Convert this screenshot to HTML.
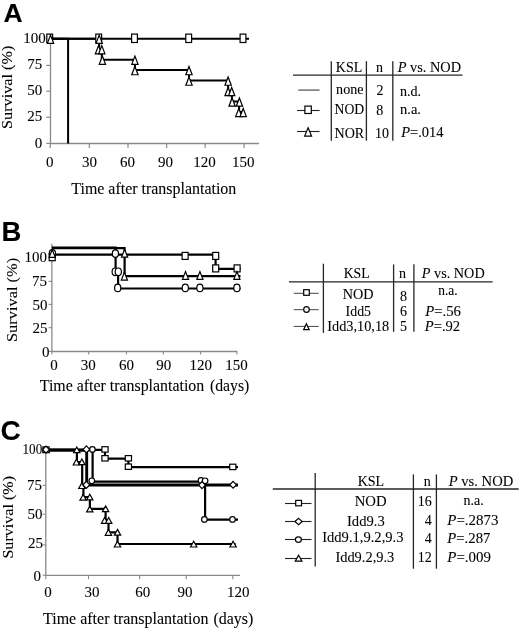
<!DOCTYPE html><html><head><meta charset="utf-8"><style>html,body{margin:0;padding:0;background:#fff;}svg{display:block;will-change:transform;}text{font-family:"Liberation Serif",serif;fill:#000;stroke:#000;stroke-width:0.08px;}</style></head><body>
<svg width="520" height="630" viewBox="0 0 520 630">
<rect width="520" height="630" fill="#fff"/>
<text x="3.4" y="21.6" font-size="26.5" style="font-family:'Liberation Sans',sans-serif;font-weight:bold">A</text>
<line x1="50.5" y1="38.6" x2="50.5" y2="143.9" stroke="#8a8a8a" stroke-width="1.3"/>
<line x1="46.3" y1="39.4" x2="50.5" y2="39.4" stroke="#8a8a8a" stroke-width="1.2"/>
<line x1="46.3" y1="65.4" x2="50.5" y2="65.4" stroke="#8a8a8a" stroke-width="1.2"/>
<line x1="46.3" y1="91.2" x2="50.5" y2="91.2" stroke="#8a8a8a" stroke-width="1.2"/>
<line x1="46.3" y1="117.2" x2="50.5" y2="117.2" stroke="#8a8a8a" stroke-width="1.2"/>
<line x1="46.3" y1="143.4" x2="50.5" y2="143.4" stroke="#8a8a8a" stroke-width="1.2"/>
<line x1="50.0" y1="143.5" x2="259" y2="143.5" stroke="#8a8a8a" stroke-width="1.3"/>
<line x1="50.2" y1="143.4" x2="50.2" y2="148" stroke="#8a8a8a" stroke-width="1.2"/>
<line x1="89.3" y1="143.4" x2="89.3" y2="148" stroke="#8a8a8a" stroke-width="1.2"/>
<line x1="128" y1="143.4" x2="128" y2="148" stroke="#8a8a8a" stroke-width="1.2"/>
<line x1="166.6" y1="143.4" x2="166.6" y2="148" stroke="#8a8a8a" stroke-width="1.2"/>
<line x1="205.1" y1="143.4" x2="205.1" y2="148" stroke="#8a8a8a" stroke-width="1.2"/>
<line x1="244.1" y1="143.4" x2="244.1" y2="148" stroke="#8a8a8a" stroke-width="1.2"/>
<text x="23.3" y="42.8" font-size="15" text-anchor="start" textLength="22.6" lengthAdjust="spacingAndGlyphs"  style="">100</text>
<text x="42.2" y="68.80000000000001" font-size="15" text-anchor="end"  style="">75</text>
<text x="42.2" y="94.60000000000001" font-size="15" text-anchor="end"  style="">50</text>
<text x="42.2" y="120.60000000000001" font-size="15" text-anchor="end"  style="">25</text>
<text x="42.2" y="147.9" font-size="15" text-anchor="end"  style="">0</text>
<text x="49.7" y="166.6" font-size="15" text-anchor="middle"  style="">0</text>
<text x="89.6" y="166.6" font-size="15" text-anchor="middle"  style="">30</text>
<text x="127.6" y="166.6" font-size="15" text-anchor="middle"  style="">60</text>
<text x="165.6" y="166.6" font-size="15" text-anchor="middle"  style="">90</text>
<text x="204.4" y="166.6" font-size="15" text-anchor="middle"  style="">120</text>
<text x="243.3" y="166.6" font-size="15" text-anchor="middle"  style="">150</text>
<text x="71.3" y="194.0" font-size="16" text-anchor="start" textLength="165.0" lengthAdjust="spacingAndGlyphs"  style="">Time after transplantation</text>
<text transform="translate(12.4,128.9) rotate(-90)" x="0" y="0" font-size="15" textLength="83.2" lengthAdjust="spacingAndGlyphs">Survival (%)</text>
<polyline points="50.5,38.7 68.1,38.7 68.1,143.4" fill="none" stroke="#000" stroke-width="2" stroke-linejoin="miter" stroke-linecap="butt"/>
<polyline points="50.5,38.7 249,38.7" fill="none" stroke="#000" stroke-width="2" stroke-linejoin="miter" stroke-linecap="butt"/>
<polyline points="50.5,38.7 99.2,38.7 99.2,49.17 101.8,49.17 101.8,59.64 134.9,59.64 134.9,70.11 189,70.11 189,80.58000000000001 228.1,80.58000000000001 228.1,91.05000000000001 231.9,91.05000000000001 231.9,101.52000000000001 239.1,101.52000000000001 239.1,111.99000000000001 243.2,111.99000000000001" fill="none" stroke="#000" stroke-width="2" stroke-linejoin="miter" stroke-linecap="butt"/>
<rect x="46.80" y="34.10" width="5.80" height="8.40" fill="#fff" stroke="#000" stroke-width="1.2"/>
<rect x="95.80" y="34.10" width="5.80" height="8.40" fill="#fff" stroke="#000" stroke-width="1.2"/>
<rect x="131.60" y="34.10" width="5.80" height="8.40" fill="#fff" stroke="#000" stroke-width="1.2"/>
<rect x="185.80" y="34.10" width="5.80" height="8.40" fill="#fff" stroke="#000" stroke-width="1.2"/>
<rect x="240.10" y="34.10" width="5.80" height="8.40" fill="#fff" stroke="#000" stroke-width="1.2"/>
<polygon points="50.50,35.13 53.66,43.35 47.34,43.35" fill="#fff" stroke="#000" stroke-width="1.2" stroke-linejoin="miter"/>
<polygon points="99.20,35.13 102.36,43.35 96.04,43.35" fill="#fff" stroke="#000" stroke-width="1.2" stroke-linejoin="miter"/>
<polygon points="98.50,45.60 101.66,53.82 95.34,53.82" fill="#fff" stroke="#000" stroke-width="1.2" stroke-linejoin="miter"/>
<polygon points="101.80,45.60 104.96,53.82 98.64,53.82" fill="#fff" stroke="#000" stroke-width="1.2" stroke-linejoin="miter"/>
<polygon points="102.40,56.07 105.56,64.29 99.24,64.29" fill="#fff" stroke="#000" stroke-width="1.2" stroke-linejoin="miter"/>
<polygon points="134.90,56.07 138.06,64.29 131.74,64.29" fill="#fff" stroke="#000" stroke-width="1.2" stroke-linejoin="miter"/>
<polygon points="134.90,66.54 138.06,74.76 131.74,74.76" fill="#fff" stroke="#000" stroke-width="1.2" stroke-linejoin="miter"/>
<polygon points="189.00,66.54 192.16,74.76 185.84,74.76" fill="#fff" stroke="#000" stroke-width="1.2" stroke-linejoin="miter"/>
<polygon points="189.00,77.01 192.16,85.23 185.84,85.23" fill="#fff" stroke="#000" stroke-width="1.2" stroke-linejoin="miter"/>
<polygon points="228.10,77.01 231.26,85.23 224.94,85.23" fill="#fff" stroke="#000" stroke-width="1.2" stroke-linejoin="miter"/>
<polygon points="228.10,87.48 231.26,95.70 224.94,95.70" fill="#fff" stroke="#000" stroke-width="1.2" stroke-linejoin="miter"/>
<polygon points="231.70,87.48 234.86,95.70 228.54,95.70" fill="#fff" stroke="#000" stroke-width="1.2" stroke-linejoin="miter"/>
<polygon points="232.10,97.95 235.26,106.17 228.94,106.17" fill="#fff" stroke="#000" stroke-width="1.2" stroke-linejoin="miter"/>
<polygon points="239.40,97.95 242.56,106.17 236.24,106.17" fill="#fff" stroke="#000" stroke-width="1.2" stroke-linejoin="miter"/>
<polygon points="238.80,108.42 241.96,116.64 235.64,116.64" fill="#fff" stroke="#000" stroke-width="1.2" stroke-linejoin="miter"/>
<polygon points="243.20,108.42 246.36,116.64 240.04,116.64" fill="#fff" stroke="#000" stroke-width="1.2" stroke-linejoin="miter"/>
<line x1="293" y1="75.2" x2="462.5" y2="75.2" stroke="#262626" stroke-width="1.3"/>
<line x1="331.3" y1="61.2" x2="331.3" y2="140.7" stroke="#262626" stroke-width="1.3"/>
<line x1="366.4" y1="61.2" x2="366.4" y2="140.7" stroke="#262626" stroke-width="1.3"/>
<line x1="392.8" y1="61.2" x2="392.8" y2="140.7" stroke="#262626" stroke-width="1.3"/>
<text x="335.8" y="71.9" font-size="14" text-anchor="start" textLength="26.4" lengthAdjust="spacingAndGlyphs"  style="">KSL</text>
<text x="379.5" y="71.5" font-size="14" text-anchor="middle"  style="">n</text>
<text x="397.7" y="71.6" font-size="14" textLength="63.3" lengthAdjust="spacingAndGlyphs"><tspan font-style="italic">P</tspan> vs. NOD</text>
<text x="336.1" y="93.8" font-size="14" text-anchor="start" textLength="27.4" lengthAdjust="spacingAndGlyphs"  style="">none</text>
<text x="380" y="94.6" font-size="14" text-anchor="middle"  style="">2</text>
<text x="400" y="96.4" font-size="14" text-anchor="start" textLength="21.1" lengthAdjust="spacingAndGlyphs"  style="">n.d.</text>
<text x="334.5" y="114.2" font-size="14" text-anchor="start" textLength="29.7" lengthAdjust="spacingAndGlyphs"  style="">NOD</text>
<text x="379.8" y="114.5" font-size="14" text-anchor="middle"  style="">8</text>
<text x="400" y="114.1" font-size="14" text-anchor="start" textLength="21" lengthAdjust="spacingAndGlyphs"  style="">n.a.</text>
<text x="334.5" y="138.1" font-size="14" text-anchor="start" textLength="29.7" lengthAdjust="spacingAndGlyphs"  style="">NOR</text>
<text x="382.1" y="138.1" font-size="14" text-anchor="middle"  style="">10</text>
<text x="401.2" y="137.3" font-size="14" textLength="42.4" lengthAdjust="spacingAndGlyphs"><tspan font-style="italic">P</tspan>=.014</text>
<line x1="298.3" y1="90.1" x2="319.6" y2="90.1" stroke="#666" stroke-width="1.4"/>
<line x1="297.1" y1="110.5" x2="319.6" y2="110.5" stroke="#222" stroke-width="1.1"/>
<rect x="304.90" y="106.10" width="6.40" height="7.40" fill="#fff" stroke="#000" stroke-width="1.2"/>
<line x1="297.1" y1="131.5" x2="319.6" y2="131.5" stroke="#222" stroke-width="1.1"/>
<polygon points="308.10,127.78 311.56,136.10 304.64,136.10" fill="#fff" stroke="#000" stroke-width="1.2" stroke-linejoin="miter"/>
<text x="1.6" y="241.1" font-size="27.5" style="font-family:'Liberation Sans',sans-serif;font-weight:bold">B</text>
<line x1="51.9" y1="243.8" x2="51.9" y2="351.9" stroke="#8a8a8a" stroke-width="1.3"/>
<line x1="48.6" y1="257.6" x2="51.9" y2="257.6" stroke="#8a8a8a" stroke-width="1.1"/>
<line x1="48.6" y1="281.4" x2="51.9" y2="281.4" stroke="#8a8a8a" stroke-width="1.1"/>
<line x1="48.6" y1="304.4" x2="51.9" y2="304.4" stroke="#8a8a8a" stroke-width="1.1"/>
<line x1="48.6" y1="327.7" x2="51.9" y2="327.7" stroke="#8a8a8a" stroke-width="1.1"/>
<line x1="48.6" y1="351.4" x2="51.9" y2="351.4" stroke="#8a8a8a" stroke-width="1.1"/>
<line x1="51.4" y1="351.5" x2="237.2" y2="351.5" stroke="#8a8a8a" stroke-width="1.3"/>
<line x1="51.9" y1="351.4" x2="51.9" y2="354.4" stroke="#8a8a8a" stroke-width="1.1"/>
<line x1="88.7" y1="351.4" x2="88.7" y2="354.4" stroke="#8a8a8a" stroke-width="1.1"/>
<line x1="126.4" y1="351.4" x2="126.4" y2="354.4" stroke="#8a8a8a" stroke-width="1.1"/>
<line x1="163.4" y1="351.4" x2="163.4" y2="354.4" stroke="#8a8a8a" stroke-width="1.1"/>
<line x1="200.6" y1="351.4" x2="200.6" y2="354.4" stroke="#8a8a8a" stroke-width="1.1"/>
<line x1="236.9" y1="351.4" x2="236.9" y2="354.4" stroke="#8a8a8a" stroke-width="1.1"/>
<text x="47.0" y="262.0" font-size="15" text-anchor="end"  style="">100</text>
<text x="47.0" y="285.79999999999995" font-size="15" text-anchor="end"  style="">75</text>
<text x="47.6" y="309.59999999999997" font-size="15" text-anchor="end"  style="">50</text>
<text x="47.6" y="333.29999999999995" font-size="15" text-anchor="end"  style="">25</text>
<text x="49.6" y="357.19999999999993" font-size="15" text-anchor="end"  style="">0</text>
<text x="54.0" y="370.4" font-size="15" text-anchor="middle"  style="">0</text>
<text x="88.3" y="370.4" font-size="15" text-anchor="middle"  style="">30</text>
<text x="126.5" y="370.4" font-size="15" text-anchor="middle"  style="">60</text>
<text x="163.7" y="370.4" font-size="15" text-anchor="middle"  style="">90</text>
<text x="200.8" y="370.4" font-size="15" text-anchor="middle"  style="">120</text>
<text x="236.6" y="370.4" font-size="15" text-anchor="middle"  style="">150</text>
<text x="39.8" y="390.6" font-size="16" text-anchor="start" textLength="164.4" lengthAdjust="spacingAndGlyphs"  style="">Time after transplantation</text>
<text x="209.9" y="390.6" font-size="16" text-anchor="start" textLength="39.4" lengthAdjust="spacingAndGlyphs"  style="">(days)</text>
<text transform="translate(16.8,342.0) rotate(-90)" x="0" y="0" font-size="15" textLength="84.2" lengthAdjust="spacingAndGlyphs">Survival (%)</text>
<polyline points="51.9,248.2 124.6,248.2 124.6,276.1 240.5,276.1" fill="none" stroke="#000" stroke-width="2.2" stroke-linejoin="miter" stroke-linecap="butt"/>
<polyline points="51.9,247.6 115.6,247.6 115.6,271.8 118.1,271.8 118.1,288.5 240.5,288.5" fill="none" stroke="#000" stroke-width="2.2" stroke-linejoin="miter" stroke-linecap="butt"/>
<polyline points="55,254.7 215.6,254.7 215.6,268.8 240.5,268.8" fill="none" stroke="#000" stroke-width="2.2" stroke-linejoin="miter" stroke-linecap="butt"/>
<rect x="49.20" y="253.70" width="6.00" height="7.00" fill="#fff" stroke="#000" stroke-width="1.2"/>
<rect x="182.10" y="252.40" width="6.00" height="7.00" fill="#fff" stroke="#000" stroke-width="1.2"/>
<rect x="212.70" y="252.40" width="6.00" height="7.00" fill="#fff" stroke="#000" stroke-width="1.2"/>
<rect x="212.70" y="264.90" width="6.00" height="7.00" fill="#fff" stroke="#000" stroke-width="1.2"/>
<rect x="234.10" y="264.90" width="6.00" height="7.00" fill="#fff" stroke="#000" stroke-width="1.2"/>
<ellipse cx="52.4" cy="253.4" rx="3.10" ry="3.80" fill="#fff" stroke="#000" stroke-width="1.2"/>
<ellipse cx="115.4" cy="253.6" rx="3.10" ry="3.80" fill="#fff" stroke="#000" stroke-width="1.2"/>
<ellipse cx="115.2" cy="271.8" rx="3.10" ry="3.80" fill="#fff" stroke="#000" stroke-width="1.2"/>
<ellipse cx="118.3" cy="271.8" rx="3.10" ry="3.80" fill="#fff" stroke="#000" stroke-width="1.2"/>
<ellipse cx="117.7" cy="287.9" rx="3.10" ry="3.80" fill="#fff" stroke="#000" stroke-width="1.2"/>
<ellipse cx="185.3" cy="287.9" rx="3.10" ry="3.80" fill="#fff" stroke="#000" stroke-width="1.2"/>
<ellipse cx="199.9" cy="287.9" rx="3.10" ry="3.80" fill="#fff" stroke="#000" stroke-width="1.2"/>
<ellipse cx="236.9" cy="287.9" rx="3.10" ry="3.80" fill="#fff" stroke="#000" stroke-width="1.2"/>
<polygon points="52.20,249.58 55.26,257.30 49.14,257.30" fill="#fff" stroke="#000" stroke-width="1.2" stroke-linejoin="miter"/>
<polygon points="124.60,249.38 127.66,257.10 121.54,257.10" fill="#fff" stroke="#000" stroke-width="1.2" stroke-linejoin="miter"/>
<polygon points="124.40,272.38 127.46,280.10 121.34,280.10" fill="#fff" stroke="#000" stroke-width="1.2" stroke-linejoin="miter"/>
<polygon points="185.50,271.58 188.56,279.30 182.44,279.30" fill="#fff" stroke="#000" stroke-width="1.2" stroke-linejoin="miter"/>
<polygon points="199.90,271.58 202.96,279.30 196.84,279.30" fill="#fff" stroke="#000" stroke-width="1.2" stroke-linejoin="miter"/>
<polygon points="236.90,271.58 239.96,279.30 233.84,279.30" fill="#fff" stroke="#000" stroke-width="1.2" stroke-linejoin="miter"/>
<line x1="288.9" y1="281.9" x2="492.7" y2="281.9" stroke="#262626" stroke-width="1.3"/>
<line x1="323.4" y1="263.7" x2="323.4" y2="332.9" stroke="#262626" stroke-width="1.3"/>
<line x1="393.6" y1="264.4" x2="393.6" y2="331.8" stroke="#262626" stroke-width="1.3"/>
<line x1="413.9" y1="264.3" x2="413.9" y2="331.8" stroke="#262626" stroke-width="1.3"/>
<text x="343.7" y="277.6" font-size="14" text-anchor="start" textLength="25.9" lengthAdjust="spacingAndGlyphs"  style="">KSL</text>
<text x="402.5" y="277.6" font-size="14" text-anchor="middle"  style="">n</text>
<text x="421.8" y="278.4" font-size="14" textLength="62.9" lengthAdjust="spacingAndGlyphs"><tspan font-style="italic">P</tspan> vs. NOD</text>
<text x="342.7" y="299.4" font-size="14" text-anchor="start" textLength="30.8" lengthAdjust="spacingAndGlyphs"  style="">NOD</text>
<text x="403.6" y="300.6" font-size="14" text-anchor="middle"  style="">8</text>
<text x="438.2" y="294.6" font-size="14" text-anchor="start" textLength="19.4" lengthAdjust="spacingAndGlyphs"  style="">n.a.</text>
<text x="345.6" y="315.8" font-size="14" text-anchor="start" textLength="25.4" lengthAdjust="spacingAndGlyphs"  style="">Idd5</text>
<text x="403.6" y="315.8" font-size="14" text-anchor="middle"  style="">6</text>
<text x="425.2" y="315.7" font-size="14" textLength="35.8" lengthAdjust="spacingAndGlyphs"><tspan font-style="italic">P</tspan>=.56</text>
<text x="327.3" y="330.8" font-size="14" text-anchor="start" textLength="61.9" lengthAdjust="spacingAndGlyphs"  style="">Idd3,10,18</text>
<text x="403.6" y="330.8" font-size="14" text-anchor="middle"  style="">5</text>
<text x="424.7" y="331.0" font-size="14" textLength="35.5" lengthAdjust="spacingAndGlyphs"><tspan font-style="italic">P</tspan>=.92</text>
<line x1="293.7" y1="293.3" x2="318.7" y2="293.3" stroke="#444" stroke-width="1"/>
<rect x="303.70" y="289.70" width="5.60" height="5.60" fill="#fff" stroke="#000" stroke-width="1.2"/>
<line x1="293.7" y1="309.7" x2="318.7" y2="309.7" stroke="#444" stroke-width="1"/>
<ellipse cx="306.5" cy="309.5" rx="2.80" ry="2.90" fill="#fff" stroke="#000" stroke-width="1.2"/>
<line x1="293.7" y1="326.4" x2="318.7" y2="326.4" stroke="#444" stroke-width="1"/>
<polygon points="306.40,323.78 309.16,329.70 303.64,329.70" fill="#fff" stroke="#000" stroke-width="1.2" stroke-linejoin="miter"/>
<text x="0.6" y="440.2" font-size="28" style="font-family:'Liberation Sans',sans-serif;font-weight:bold">C</text>
<line x1="45.8" y1="449.6" x2="45.8" y2="575.7" stroke="#8a8a8a" stroke-width="1.3"/>
<line x1="42.6" y1="449.6" x2="45.8" y2="449.6" stroke="#8a8a8a" stroke-width="1.1"/>
<line x1="42.6" y1="485.4" x2="45.8" y2="485.4" stroke="#8a8a8a" stroke-width="1.1"/>
<line x1="42.6" y1="514.2" x2="45.8" y2="514.2" stroke="#8a8a8a" stroke-width="1.1"/>
<line x1="42.6" y1="544.9" x2="45.8" y2="544.9" stroke="#8a8a8a" stroke-width="1.1"/>
<line x1="42.6" y1="575.2" x2="45.8" y2="575.2" stroke="#8a8a8a" stroke-width="1.1"/>
<line x1="45.3" y1="575.3" x2="240" y2="575.3" stroke="#8a8a8a" stroke-width="1.3"/>
<line x1="45.8" y1="575.2" x2="45.8" y2="579.2" stroke="#8a8a8a" stroke-width="1.1"/>
<line x1="88.5" y1="575.2" x2="88.5" y2="579.2" stroke="#8a8a8a" stroke-width="1.1"/>
<line x1="139.6" y1="575.2" x2="139.6" y2="579.2" stroke="#8a8a8a" stroke-width="1.1"/>
<line x1="186.2" y1="575.2" x2="186.2" y2="579.2" stroke="#8a8a8a" stroke-width="1.1"/>
<line x1="232.8" y1="575.2" x2="232.8" y2="579.2" stroke="#8a8a8a" stroke-width="1.1"/>
<text x="22.5" y="453.90000000000003" font-size="15" text-anchor="start" textLength="19.8" lengthAdjust="spacingAndGlyphs"  style="">100</text>
<text x="42.0" y="489.59999999999997" font-size="15" text-anchor="end"  style="">75</text>
<text x="42.5" y="519.3000000000001" font-size="15" text-anchor="end"  style="">50</text>
<text x="42.9" y="547.9" font-size="15" text-anchor="end"  style="">25</text>
<text x="41.0" y="581.1000000000001" font-size="15" text-anchor="end"  style="">0</text>
<text x="48.1" y="596.7" font-size="15" text-anchor="middle"  style="">0</text>
<text x="92.0" y="596.7" font-size="15" text-anchor="middle"  style="">30</text>
<text x="142.7" y="596.7" font-size="15" text-anchor="middle"  style="">60</text>
<text x="184.9" y="596.7" font-size="15" text-anchor="middle"  style="">90</text>
<text x="238.3" y="596.7" font-size="15" text-anchor="middle"  style="">120</text>
<text x="43.0" y="623.8" font-size="16" text-anchor="start" textLength="165.5" lengthAdjust="spacingAndGlyphs"  style="">Time after transplantation</text>
<text x="213.5" y="623.8" font-size="16" text-anchor="start" textLength="39.8" lengthAdjust="spacingAndGlyphs"  style="">(days)</text>
<text transform="translate(12.6,558.6) rotate(-90)" x="0" y="0" font-size="15" textLength="82.6" lengthAdjust="spacingAndGlyphs">Survival (%)</text>
<polyline points="45.8,449.9 105,449.9 105,458.7 128.4,458.7 128.4,467.1 238,467.1" fill="none" stroke="#000" stroke-width="2.2" stroke-linejoin="miter" stroke-linecap="butt"/>
<polyline points="45.8,449.8 92.6,449.8 92.6,481.7 202,481.7" fill="none" stroke="#000" stroke-width="2.2" stroke-linejoin="miter" stroke-linecap="butt"/>
<polyline points="205.1,481.5 205.1,519.6 238,519.6" fill="none" stroke="#000" stroke-width="2.2" stroke-linejoin="miter" stroke-linecap="butt"/>
<polyline points="45.8,450.2 86.7,450.2 86.7,485.0 238,485.0" fill="none" stroke="#000" stroke-width="2.9" stroke-linejoin="miter" stroke-linecap="butt"/>
<polyline points="45.8,449.9 76.9,449.9 76.9,462.1 82.2,462.1 82.2,485.6 83.4,485.6 83.4,497.0 89.9,497.0 89.9,508.9 105.6,508.9 105.6,520.2 108.5,520.2 108.5,532.3 117.5,532.3 117.5,544.0 235.6,544.0" fill="none" stroke="#000" stroke-width="2.2" stroke-linejoin="miter" stroke-linecap="butt"/>
<polygon points="46.00,446.98 49.16,452.70 42.84,452.70" fill="#fff" stroke="#000" stroke-width="1.2" stroke-linejoin="miter"/>
<polygon points="76.80,446.98 79.96,452.70 73.64,452.70" fill="#fff" stroke="#000" stroke-width="1.2" stroke-linejoin="miter"/>
<polygon points="76.40,459.28 79.56,465.00 73.24,465.00" fill="#fff" stroke="#000" stroke-width="1.2" stroke-linejoin="miter"/>
<polygon points="81.90,458.98 85.06,464.70 78.74,464.70" fill="#fff" stroke="#000" stroke-width="1.2" stroke-linejoin="miter"/>
<polygon points="81.90,482.78 85.06,488.50 78.74,488.50" fill="#fff" stroke="#000" stroke-width="1.2" stroke-linejoin="miter"/>
<polygon points="83.10,494.38 86.26,500.10 79.94,500.10" fill="#fff" stroke="#000" stroke-width="1.2" stroke-linejoin="miter"/>
<polygon points="89.80,494.18 92.96,499.90 86.64,499.90" fill="#fff" stroke="#000" stroke-width="1.2" stroke-linejoin="miter"/>
<polygon points="89.80,506.18 92.96,511.90 86.64,511.90" fill="#fff" stroke="#000" stroke-width="1.2" stroke-linejoin="miter"/>
<polygon points="105.60,505.88 108.76,511.60 102.44,511.60" fill="#fff" stroke="#000" stroke-width="1.2" stroke-linejoin="miter"/>
<polygon points="104.60,517.58 107.76,523.30 101.44,523.30" fill="#fff" stroke="#000" stroke-width="1.2" stroke-linejoin="miter"/>
<polygon points="108.70,517.58 111.86,523.30 105.54,523.30" fill="#fff" stroke="#000" stroke-width="1.2" stroke-linejoin="miter"/>
<polygon points="108.40,529.58 111.56,535.30 105.24,535.30" fill="#fff" stroke="#000" stroke-width="1.2" stroke-linejoin="miter"/>
<polygon points="117.50,529.38 120.66,535.10 114.34,535.10" fill="#fff" stroke="#000" stroke-width="1.2" stroke-linejoin="miter"/>
<polygon points="117.50,541.28 120.66,547.00 114.34,547.00" fill="#fff" stroke="#000" stroke-width="1.2" stroke-linejoin="miter"/>
<polygon points="193.70,541.28 196.86,547.00 190.54,547.00" fill="#fff" stroke="#000" stroke-width="1.2" stroke-linejoin="miter"/>
<polygon points="233.10,541.28 236.26,547.00 229.94,547.00" fill="#fff" stroke="#000" stroke-width="1.2" stroke-linejoin="miter"/>
<ellipse cx="46" cy="449.6" rx="2.80" ry="2.80" fill="#fff" stroke="#000" stroke-width="1.2"/>
<ellipse cx="92.4" cy="449.4" rx="2.80" ry="2.80" fill="#fff" stroke="#000" stroke-width="1.2"/>
<ellipse cx="91.8" cy="480.8" rx="2.80" ry="2.80" fill="#fff" stroke="#000" stroke-width="1.2"/>
<ellipse cx="201.0" cy="480.4" rx="2.80" ry="2.80" fill="#fff" stroke="#000" stroke-width="1.2"/>
<ellipse cx="205.1" cy="480.8" rx="2.80" ry="2.80" fill="#fff" stroke="#000" stroke-width="1.2"/>
<ellipse cx="204.4" cy="519.4" rx="2.80" ry="2.80" fill="#fff" stroke="#000" stroke-width="1.2"/>
<ellipse cx="232.5" cy="519.4" rx="2.80" ry="2.80" fill="#fff" stroke="#000" stroke-width="1.2"/>
<rect x="42.90" y="446.90" width="6.20" height="5.40" fill="#fff" stroke="#000" stroke-width="1.2"/>
<rect x="101.90" y="446.70" width="6.20" height="5.40" fill="#fff" stroke="#000" stroke-width="1.2"/>
<rect x="101.90" y="455.60" width="6.20" height="5.40" fill="#fff" stroke="#000" stroke-width="1.2"/>
<rect x="125.30" y="455.60" width="6.20" height="5.40" fill="#fff" stroke="#000" stroke-width="1.2"/>
<rect x="125.30" y="464.00" width="6.20" height="5.40" fill="#fff" stroke="#000" stroke-width="1.2"/>
<rect x="229.70" y="464.20" width="6.20" height="5.40" fill="#fff" stroke="#000" stroke-width="1.2"/>
<polygon points="46,446.15 49.35,449.6 46,453.05 42.65,449.6" fill="#fff" stroke="#000" stroke-width="1.2"/>
<polygon points="86.4,445.95 89.75,449.4 86.4,452.85 83.05,449.4" fill="#fff" stroke="#000" stroke-width="1.2"/>
<polygon points="86.3,481.45 89.65,484.9 86.3,488.35 82.95,484.9" fill="#fff" stroke="#000" stroke-width="1.2"/>
<polygon points="202.0,481.65 205.35,485.1 202.0,488.55 198.65,485.1" fill="#fff" stroke="#000" stroke-width="1.2"/>
<polygon points="233.1,481.35 236.45,484.8 233.1,488.25 229.75,484.8" fill="#fff" stroke="#000" stroke-width="1.2"/>
<line x1="272.8" y1="489.0" x2="518.7" y2="489.0" stroke="#262626" stroke-width="1.3"/>
<line x1="315.2" y1="473.1" x2="315.2" y2="566.5" stroke="#262626" stroke-width="1.3"/>
<line x1="413.4" y1="474.4" x2="413.4" y2="568.7" stroke="#262626" stroke-width="1.3"/>
<line x1="436.4" y1="474.4" x2="436.4" y2="568.7" stroke="#262626" stroke-width="1.3"/>
<text x="357.7" y="485.6" font-size="14" text-anchor="start" textLength="26.5" lengthAdjust="spacingAndGlyphs"  style="">KSL</text>
<text x="427.2" y="486.0" font-size="14" text-anchor="middle"  style="">n</text>
<text x="448.7" y="486.0" font-size="14" textLength="64.6" lengthAdjust="spacingAndGlyphs"><tspan font-style="italic">P</tspan> vs. NOD</text>
<text x="354.7" y="506.3" font-size="14" text-anchor="start" textLength="31.9" lengthAdjust="spacingAndGlyphs"  style="">NOD</text>
<text x="431.8" y="505.6" font-size="14" text-anchor="end"  style="">16</text>
<text x="463.5" y="505.4" font-size="14" text-anchor="start" textLength="20.2" lengthAdjust="spacingAndGlyphs"  style="">n.a.</text>
<text x="347.0" y="526.0" font-size="14" text-anchor="start" textLength="37.7" lengthAdjust="spacingAndGlyphs"  style="">Idd9.3</text>
<text x="431.8" y="524.9" font-size="14" text-anchor="end"  style="">4</text>
<text x="447.3" y="524.9" font-size="14" textLength="51.2" lengthAdjust="spacingAndGlyphs"><tspan font-style="italic">P</tspan>=.2873</text>
<text x="322.2" y="542.4" font-size="14" text-anchor="start" textLength="81.3" lengthAdjust="spacingAndGlyphs"  style="">Idd9.1,9.2,9.3</text>
<text x="431.8" y="543.2" font-size="14" text-anchor="end"  style="">4</text>
<text x="447.3" y="543.2" font-size="14" textLength="43.1" lengthAdjust="spacingAndGlyphs"><tspan font-style="italic">P</tspan>=.287</text>
<text x="335.4" y="562.1" font-size="14" text-anchor="start" textLength="58.9" lengthAdjust="spacingAndGlyphs"  style="">Idd9.2,9.3</text>
<text x="431.8" y="562.0" font-size="14" text-anchor="end"  style="">12</text>
<text x="447.3" y="562.0" font-size="14" textLength="43.7" lengthAdjust="spacingAndGlyphs"><tspan font-style="italic">P</tspan>=.009</text>
<line x1="285" y1="503.5" x2="311.5" y2="503.5" stroke="#222" stroke-width="1.1"/>
<rect x="295.70" y="500.40" width="5.80" height="5.40" fill="#fff" stroke="#000" stroke-width="1.2"/>
<line x1="285" y1="521.5" x2="311.5" y2="521.5" stroke="#222" stroke-width="1.1"/>
<polygon points="298.6,518.35 302.25,521.5 298.6,524.65 294.95,521.5" fill="#fff" stroke="#000" stroke-width="1.2"/>
<line x1="285" y1="539.5" x2="311.5" y2="539.5" stroke="#222" stroke-width="1.1"/>
<ellipse cx="298.4" cy="539.6" rx="3.00" ry="2.80" fill="#fff" stroke="#000" stroke-width="1.2"/>
<line x1="285" y1="558.5" x2="311.5" y2="558.5" stroke="#222" stroke-width="1.1"/>
<polygon points="298.60,555.18 301.96,561.10 295.24,561.10" fill="#fff" stroke="#000" stroke-width="1.2" stroke-linejoin="miter"/>
</svg></body></html>
